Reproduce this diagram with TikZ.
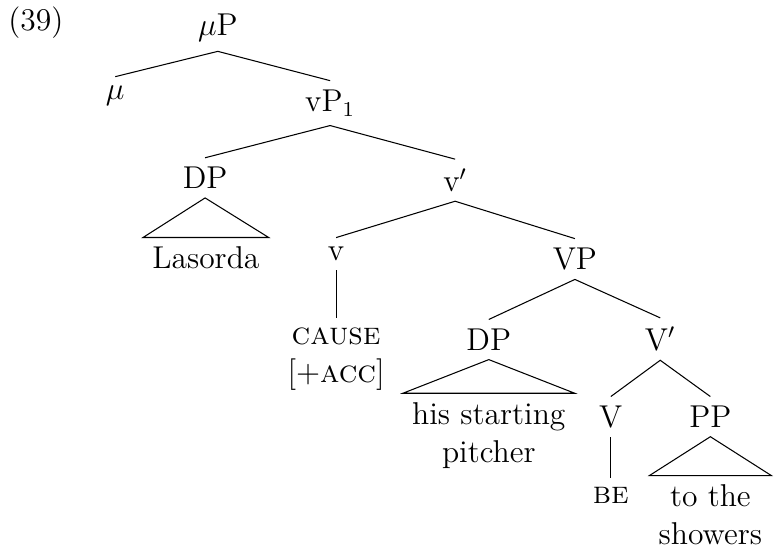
\documentclass[tikz,border=0pt]{standalone}
\usepackage{amsmath, amssymb}
\usepackage{tikz}
\usetikzlibrary{backgrounds}
\tikzstyle{cat}=[anchor=base, font=\fontsize{12}{14.5}\selectfont]
\tikzstyle{leaf}=[cat, align=center]
\tikzstyle{branch}=[line width=.4pt]

\begin{document}
\begin{tikzpicture}
	\useasboundingbox (0,0) rectangle (10.34,7.37);
	\node[cat] (ex) at (0.48,6.96) {(39)};
	\node[cat] (muP) at (2.91,6.89) {$\mu$P};
	\node[cat] (mu) at (1.54,6.04) {$\mu$};
	\node[cat] (vP) at (4.41,5.88) {vP$_1$};
	\node[cat] (DPa) at (2.74,4.85) {DP};
	\node[cat] (vbar) at (6.08,4.81) {v$'$};
	\node[leaf] (lasorda) at (2.75,3.78) {Lasorda};
	\node[cat] (v) at (4.49,3.89) {v};
	\node[cat] (VP) at (7.68,3.77) {VP};
	\node[leaf] (cause) at (4.49,2.26) {\textsc{cause}\\{}[+\textsc{acc}]};
	\node[cat] (DPb) at (6.53,2.69) {DP};
	\node[cat] (Vbar) at (8.82,2.69) {V$'$};
	\node[leaf] (pitcher) at (6.53,1.19) {his starting\\pitcher};
	\node[cat] (V) at (8.16,1.66) {V};
	\node[cat] (PP) at (9.49,1.66) {PP};
	\node[leaf] (be) at (8.16,0.64) {\textsc{be}};
	\node[leaf] (showers) at (9.49,0.09) {to the\\showers};
	% branches
	\draw[branch] (mu.north) -- (muP.south) -- (vP.north);
	\draw[branch] (DPa.north) -- (vP.south) -- (vbar.north);
	\draw[branch] (v.north) -- (vbar.south) -- (VP.north);
	\draw[branch] (DPb.north) -- (VP.south) -- (Vbar.north);
	\draw[branch] (V.north) -- (Vbar.south) -- (PP.north);
	\draw[branch] (v.south) -- (cause.north);
	\draw[branch] (V.south) -- (be.north);
	% roofs
	\draw[branch] (DPa.south) -- (lasorda.north west) -- (lasorda.north east) -- cycle;
	\draw[branch] (DPb.south) -- (pitcher.north west) -- (pitcher.north east) -- cycle;
	\draw[branch] (PP.south) -- (showers.north west) -- (showers.north east) -- cycle;
\end{tikzpicture}
\end{document}
